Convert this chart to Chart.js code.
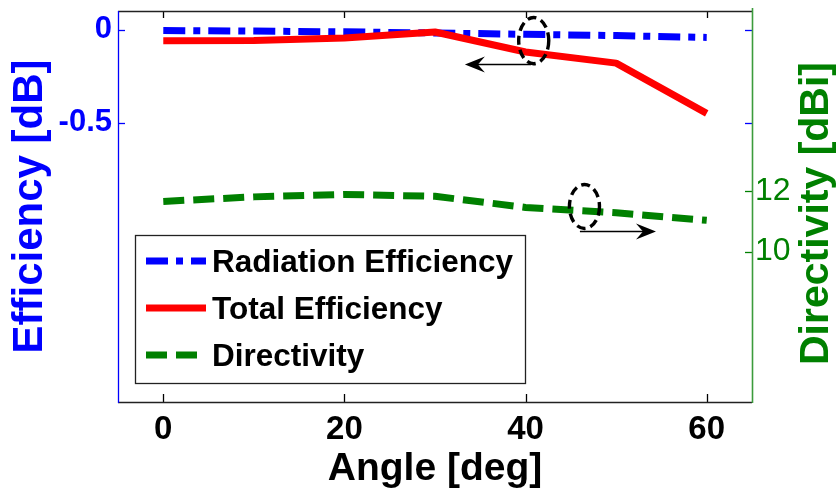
<!DOCTYPE html>
<html><head><meta charset="utf-8">
<script src="https://cdn.jsdelivr.net/npm/chart.js@4/dist/chart.umd.min.js"></script>
<style>html,body{margin:0;padding:0;background:#fff}#wrap{width:838px;height:496px;position:relative}</style>
</head><body><div id="wrap"><canvas id="c"></canvas></div>
<script>
const angles = [0, 10, 20, 30, 40, 50, 60];
const radiationEfficiency = [-0.005, -0.008, -0.012, -0.018, -0.025, -0.032, -0.042];
const totalEfficiency = [-0.06, -0.059, -0.045, -0.013, -0.12, -0.18, -0.45];
const directivity = [11.67, 11.82, 11.9, 11.84, 11.47, 11.29, 11.04];
const xTicks = [0, 20, 40, 60];
const effTicks = [-0.5, 0];
const dirTicks = [10, 12];
const seriesLabels = ['Radiation Efficiency', 'Total Efficiency', 'Directivity'];
const xTitle = 'Angle [deg]';
const effTitle = 'Efficiency [dB]';
const dirTitle = 'Directivity [dBi]';

const FONT = '"Liberation Sans", Arial, sans-serif';
const BLUE = '#0000ff', RED = '#ff0000', GREEN = '#008000';

// annotation marks, in data units
const annotations = [
  {axis: 'yEff', ex: 40.9, ey: -0.059, rx: 1.66, ry: 0.124, from: 40.6, to: 33.3, ay: -0.188},
  {axis: 'yDir', ex: 46.5, ey: 11.5, rx: 1.66, ry: 0.73, from: 46.0, to: 54.4, ay: 10.67}
];

const pts = (ys) => angles.map((a, i) => ({x: a, y: ys[i]}));
const noPad = s => { s.paddingTop = 0; s.paddingBottom = 0; s.paddingLeft = 0; s.paddingRight = 0; };

const framePlugin = {
  id: 'frame',
  afterDatasetsDraw(chart) {
    const {ctx, chartArea: a, scales} = chart;
    const x = scales.x, yl = scales.yEff, yr = scales.yDir;
    const line = (x1, y1, x2, y2) => { ctx.beginPath(); ctx.moveTo(x1, y1); ctx.lineTo(x2, y2); ctx.stroke(); };
    ctx.save();
    // annotations
    annotations.forEach(an => {
      const ys = scales[an.axis];
      const cx = x.getPixelForValue(an.ex), cy = ys.getPixelForValue(an.ey);
      const rx = Math.abs(x.getPixelForValue(an.ex + an.rx) - cx);
      const ry = Math.abs(ys.getPixelForValue(an.ey + an.ry) - cy);
      ctx.strokeStyle = '#000'; ctx.lineWidth = 3.4; ctx.setLineDash([9, 5]);
      ctx.beginPath(); ctx.ellipse(cx, cy, rx, ry, 0, 0, Math.PI * 2); ctx.stroke();
      ctx.setLineDash([]);
      const x1 = x.getPixelForValue(an.from), x2 = x.getPixelForValue(an.to), ay = ys.getPixelForValue(an.ay);
      const dir = Math.sign(x2 - x1);
      ctx.lineWidth = 1.5;
      line(x1, ay, x2 - dir * 10, ay);
      ctx.fillStyle = '#000';
      ctx.beginPath();
      ctx.moveTo(x2, ay);
      ctx.lineTo(x2 - dir * 20, ay - 8);
      ctx.lineTo(x2 - dir * 13, ay);
      ctx.lineTo(x2 - dir * 20, ay + 8);
      ctx.closePath(); ctx.fill();
    });
    // ticks (inward)
    ctx.lineWidth = 1.3;
    ctx.strokeStyle = '#000';
    xTicks.forEach(v => {
      const px = Math.round(x.getPixelForValue(v)) + 0.5;
      line(px, a.bottom, px, a.bottom - 8);
      line(px, a.top, px, a.top + 7);
    });
    ctx.strokeStyle = BLUE;
    effTicks.forEach(v => {
      const py = Math.round(yl.getPixelForValue(v)) + 0.5;
      line(a.left, py, a.left + 7, py);
      line(a.right, py, a.right - 7, py);
    });
    ctx.strokeStyle = GREEN;
    dirTicks.forEach(v => {
      const py = Math.round(yr.getPixelForValue(v)) + 0.5;
      line(a.right, py, a.right - 7, py);
    });
    // borders
    ctx.lineWidth = 1.3;
    ctx.strokeStyle = '#222';
    line(a.left, a.top + 0.5, a.right, a.top + 0.5);
    line(a.left, a.bottom + 0.5, a.right, a.bottom + 0.5);
    ctx.strokeStyle = BLUE;
    line(a.left + 0.5, a.top, a.left + 0.5, a.bottom + 1);
    ctx.strokeStyle = '#3c9c3c'; ctx.lineWidth = 1.6;
    line(a.right + 0.5, a.top - 3, a.right + 0.5, a.bottom + 1);
    // legend
    const lg = {left: 135, top: 235, width: 390, height: 148};
    ctx.fillStyle = '#fff';
    ctx.fillRect(lg.left, lg.top, lg.width, lg.height);
    ctx.strokeStyle = '#222'; ctx.lineWidth = 1.3;
    ctx.strokeRect(lg.left + 0.5, lg.top + 0.5, lg.width, lg.height);
    chart.data.datasets.forEach((ds, i) => {
      const ry = lg.top + 26 + i * 47;
      ctx.strokeStyle = ds.borderColor; ctx.lineWidth = ds.borderWidth; ctx.lineCap = 'butt';
      ctx.setLineDash(ds.borderDash || []);
      line(lg.left + 11, ry, lg.left + 71, ry);
      ctx.setLineDash([]);
      ctx.fillStyle = '#000';
      ctx.font = 'bold 31.5px ' + FONT;
      ctx.textAlign = 'left'; ctx.textBaseline = 'middle';
      ctx.fillText(ds.label, lg.left + 77, ry + 2);
    });
    // right axis title (reads bottom to top)
    ctx.save();
    ctx.translate(yr.right - 21, (a.top + a.bottom) / 2 + 7);
    ctx.rotate(-Math.PI / 2);
    ctx.fillStyle = GREEN;
    ctx.font = 'bold 41px ' + FONT;
    ctx.textAlign = 'center'; ctx.textBaseline = 'middle';
    ctx.fillText(dirTitle, 0, 0);
    ctx.restore();
    ctx.restore();
  }
};

new Chart(document.getElementById('c'), {
  type: 'line',
  data: {
    datasets: [
      {label: seriesLabels[0], data: pts(radiationEfficiency), yAxisID: 'yEff', borderColor: BLUE, borderWidth: 7, borderDash: [22, 8, 7, 8], order: 1},
      {label: seriesLabels[1], data: pts(totalEfficiency), yAxisID: 'yEff', borderColor: RED, borderWidth: 7, order: 0},
      {label: seriesLabels[2], data: pts(directivity), yAxisID: 'yDir', borderColor: GREEN, borderWidth: 7, borderDash: [21, 9], order: 2}
    ]
  },
  options: {
    responsive: true, maintainAspectRatio: false, animation: false,
    layout: {padding: {top: 11, left: 0, right: 0, bottom: 0}},
    elements: {point: {radius: 0}, line: {tension: 0, borderCapStyle: 'butt', borderJoinStyle: 'round', fill: false}},
    plugins: {legend: {display: false}, tooltip: {enabled: false}},
    scales: {
      x: {
        type: 'linear', position: 'bottom', min: -5, max: 65,
        grid: {display: false, drawTicks: false}, border: {display: false},
        afterBuildTicks: s => { s.ticks = xTicks.map(v => ({value: v})); },
        afterFit: s => { s.height = 94; noPad(s); },
        ticks: {color: '#000', font: {family: FONT, size: 33, weight: 'bold', lineHeight: 1.2}, padding: 8, maxRotation: 0, autoSkip: false},
        title: {display: true, text: xTitle, color: '#000', font: {family: FONT, size: 39, weight: 'bold', lineHeight: 1}, padding: {top: 0, bottom: 7}}
      },
      yEff: {
        type: 'linear', position: 'left', min: -2, max: 0.1,
        grid: {display: false, drawTicks: false}, border: {display: false},
        afterBuildTicks: s => { s.ticks = effTicks.map(v => ({value: v})); },
        afterFit: s => { s.width = 118; noPad(s); },
        ticks: {color: BLUE, font: {family: FONT, size: 31, weight: 'bold'}, padding: 6, autoSkip: false, callback: v => String(v)},
        title: {display: true, text: effTitle, color: BLUE, font: {family: FONT, size: 42, weight: 'bold', lineHeight: 1}, padding: {top: 9, bottom: 0}}
      },
      yDir: {
        type: 'linear', position: 'right', min: 5, max: 18,
        grid: {display: false, drawTicks: false}, border: {display: false},
        afterBuildTicks: s => { s.ticks = dirTicks.map(v => ({value: v})); },
        afterFit: s => { s.width = 86; noPad(s); },
        ticks: {color: GREEN, font: {family: FONT, size: 32, weight: 'normal'}, padding: 3, autoSkip: false, callback: v => String(v)}
      }
    }
  },
  plugins: [framePlugin]
});
</script>
</body></html>
